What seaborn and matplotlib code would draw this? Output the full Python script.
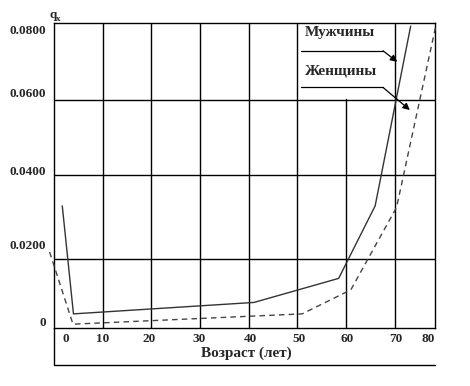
import matplotlib
matplotlib.use("Agg")
import matplotlib.pyplot as plt
import seaborn as sns
import pandas as pd

# values (age in years, q_x)
men_age = [1.7, 4.0, 41.1, 58.5, 66.0, 73.3]
men_qx = [0.0320, 0.0037, 0.0067, 0.0130, 0.0320, 0.0791]
women_age = [-0.9, 3.9, 51.0, 61.0, 70.4, 78.5]
women_qx = [0.0199, 0.0010, 0.0037, 0.0100, 0.0316, 0.0794]

x_labels = ["0", "10", "20", "30", "40", "50", "60", "70", "80"]
y_labels = ["0.0800", "0.0600", "0.0400", "0.0200", "0"]

# layout of the original drawing (labels are not on the grid lines)
x_label_pos = [2.5, 10, 19.6, 29.9, 40.4, 50.3, 60.2, 70.2, 76.8]
y_label_pos = [0.0781, 0.0618, 0.0414, 0.0218, 0.0016]
h_grid = [0.0181, 0.0401, 0.0598]
v_grid = [10, 20, 30, 40, 50, 70]

sns.set_style("white")
plt.rcParams["font.family"] = ["Liberation Serif", "DejaVu Serif"]
plt.rcParams["font.weight"] = "bold"

fig = plt.figure(figsize=(4.7, 3.86), dpi=100)
ax = fig.add_axes([54 / 470, 1 - 328 / 386, 381 / 470, 305.3 / 386])

men = pd.DataFrame({"age": men_age, "qx": men_qx})
women = pd.DataFrame({"age": women_age, "qx": women_qx})

for g in h_grid:
    ax.axhline(g, color="black", lw=1, zorder=1)
for g in v_grid:
    ax.axvline(g, color="black", lw=1, zorder=1)
ax.axvline(60, ymax=0.75, color="black", lw=1, zorder=1)   # stops under the legend cell

sns.lineplot(data=men, x="age", y="qx", ax=ax, color="#333333", lw=1,
             sort=False, clip_on=False, zorder=3)
sns.lineplot(data=women, x="age", y="qx", ax=ax, color="#444444", lw=1,
             linestyle=(0, (4, 3)), sort=False, clip_on=False, zorder=3)

ax.set_xlim(0, 78.3)
ax.set_ylim(0, 0.08)
ax.set_xticks(x_label_pos)
ax.set_xticklabels(x_labels)
ax.set_yticks(y_label_pos)
ax.set_yticklabels(y_labels)
ax.tick_params(length=0, labelsize=9.5)
ax.tick_params(axis="y", pad=6)
ax.tick_params(axis="x", pad=3.5)
ax.set_xlabel("")
ax.set_ylabel("")
for s in ax.spines.values():
    s.set_color("black")
    s.set_linewidth(1)

# q_x label above the axis
ax.text(-0.012, 1.005, "q", transform=ax.transAxes, fontsize=9.5, fontweight="bold",
        ha="left", va="bottom")
ax.text(0.006, 1.0, "x", transform=ax.transAxes, fontsize=6.5, fontweight="bold",
        ha="left", va="bottom")

# axis title with the box underneath
ax.text(0.504, -0.082, "Возраст (лет)", transform=ax.transAxes, fontsize=11,
        fontweight="bold", ha="center", va="center")
ax.plot([0, 0, 1], [0, -0.121, -0.121], transform=ax.transAxes, color="black",
        lw=1, clip_on=False)

# legend drawn as labels with pointer arrows
ax.text(0.659, 0.969, "Мужчины", transform=ax.transAxes, fontsize=11,
        fontweight="bold", ha="left", va="center")
ax.text(0.659, 0.842, "Женщины", transform=ax.transAxes, fontsize=11,
        fontweight="bold", ha="left", va="center")
for y0, tip in [(0.908, (0.901, 0.872)), (0.788, (0.934, 0.714))]:
    ax.plot([0.648, 0.8635], [y0, y0], transform=ax.transAxes, color="black", lw=0.9)
    ax.annotate("", xy=tip, xycoords="axes fraction", xytext=(0.8635, y0),
                textcoords="axes fraction",
                arrowprops=dict(arrowstyle="-|>", color="black", lw=0.9,
                                mutation_scale=10, shrinkA=0, shrinkB=0))

fig.savefig("out.png", dpi=100)
